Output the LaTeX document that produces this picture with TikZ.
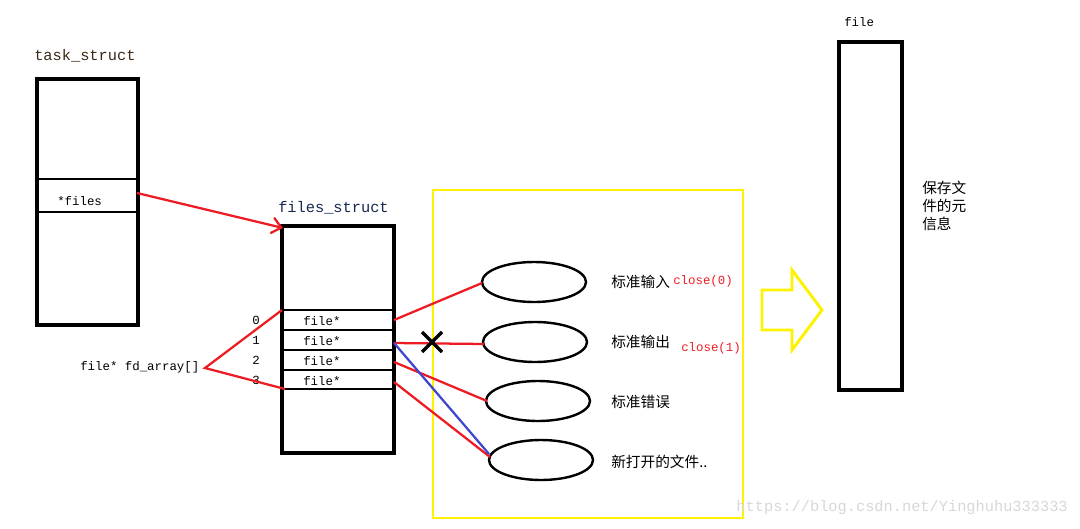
\documentclass[tikz,border=0pt]{standalone}
\usepackage{fontspec}
\setmonofont{Liberation Mono}
\newfontfamily\cjk{Noto Sans CJK SC}
\usetikzlibrary{arrows.meta}
\definecolor{myred}{RGB}{237,28,36}
\definecolor{myblue}{RGB}{63,72,204}
\definecolor{myyel}{RGB}{255,242,0}
\begin{document}
\begin{tikzpicture}[x=0.75pt,y=-0.75pt,
  box/.style={draw=black,line width=3pt},
  sep/.style={draw=black,line width=2.2pt},
  rl/.style={draw=myred,line width=1.7pt},
  mono/.style={font=\ttfamily\fontsize{9.3}{11}\selectfont,inner sep=0pt},
  cn/.style={font=\cjk\fontsize{11}{13}\selectfont,inner sep=0pt,anchor=west},
  ell/.style={draw=black,line width=1.8pt,ellipse,minimum width=104\pgflinewidth}]
\useasboundingbox (0,0) rectangle (1080,528);
% task_struct
\node[mono,anchor=west,font=\ttfamily\fontsize{11.5}{13}\selectfont,text={rgb,255:red,60;green,40;blue,20}] (tl) at (34,56) {task\_struct};
\draw[box] (37,79) rectangle (138,325);
\draw[sep] (37,179) -- (138,179); \draw[sep] (37,212) -- (138,212);
\node[mono,anchor=west] (fl) at (57,201) {*files};
\coordinate (fsrc) at (137,193);
% files_struct
\node[mono,anchor=west,font=\ttfamily\fontsize{11.5}{13}\selectfont,text={rgb,255:red,20;green,40;blue,80}] (fsl) at (278,208) {files\_struct};
\draw[box] (282,226) rectangle (394,453);
\foreach \y in {310,330,350,370,389} \draw[sep] (282,\y) -- (394,\y);
\foreach \y/\i in {321/0,341/1,361/2,381/3}{
  \node[mono,anchor=west] at (303,\y) {file*};
  \node[mono] at (256,\y-1) {\i};}
\coordinate (fdst) at (283,228);
\draw[rl,-{Straight Barb[length=7pt,width=12pt]}] (fsrc) -- (fdst);
\node[mono,anchor=west] (fa) at (80,367) {file* fd\_array[]};
\coordinate (fap) at (205,368);
\coordinate (r0) at (282,310); \coordinate (r3) at (285,389);
\draw[rl] (r0) -- (fap) -- (r3);
% yellow box
\draw[draw=myyel,line width=2.2pt] (433,190) rectangle (743,518);
% ellipses
\foreach \n/\x/\y in {e1/534/282,e2/535/342,e3/538/401,e4/541/460}
  \draw[line width=1.8pt] (\x,\y) ellipse [x radius=52,y radius=20];
\coordinate (e1w) at (482,283); \coordinate (e2w) at (484,344);
\coordinate (e3w) at (487,401); \coordinate (e4w) at (490,457);
\coordinate (s0) at (394,320); \coordinate (s1) at (394,343);
\coordinate (s2) at (394,362); \coordinate (s3) at (394,382);
\draw[rl] (s0) -- (e1w); \draw[rl] (s1) -- (e2w);
\draw[rl] (s2) -- (e3w); \draw[rl] (s3) -- (e4w);
\draw[draw=myblue,line width=1.7pt] (s1) -- (489,454);
\draw[line width=2.5pt] (422,332) -- (442,352) (442,332) -- (422,352);
\node[cn] (t1) at (611,282) {标准输入};
\node[mono,anchor=west,text=myred] at (673,281) {close(0)};
\node[cn] at (611,342) {标准输出};
\node[mono,anchor=west,text=myred] at (681,348) {close(1)};
\node[cn] at (611,402) {标准错误};
\node[cn] at (611,462) {新打开的文件..};
% hollow arrow
\draw[draw=myyel,line width=2.2pt,line join=miter] (762,290) -- (792,290) -- (792,270) -- (822,310) -- (792,350) -- (792,330) -- (762,330) -- cycle;
% file
\node[mono,anchor=west] at (844,22) {file};
\draw[box] (839,42) rectangle (902,390);
\node[font=\cjk\fontsize{11}{13.5}\selectfont,align=left,anchor=north west,inner sep=0pt] at (922,181) {保存文\\件的元\\信息};
\node[mono,anchor=east,text={rgb,255:red,215;green,215;blue,215},font=\ttfamily\fontsize{11.5}{13}\selectfont] at (1068,508) {https://blog.csdn.net/Yinghuhu333333};
\end{tikzpicture}
\end{document}
